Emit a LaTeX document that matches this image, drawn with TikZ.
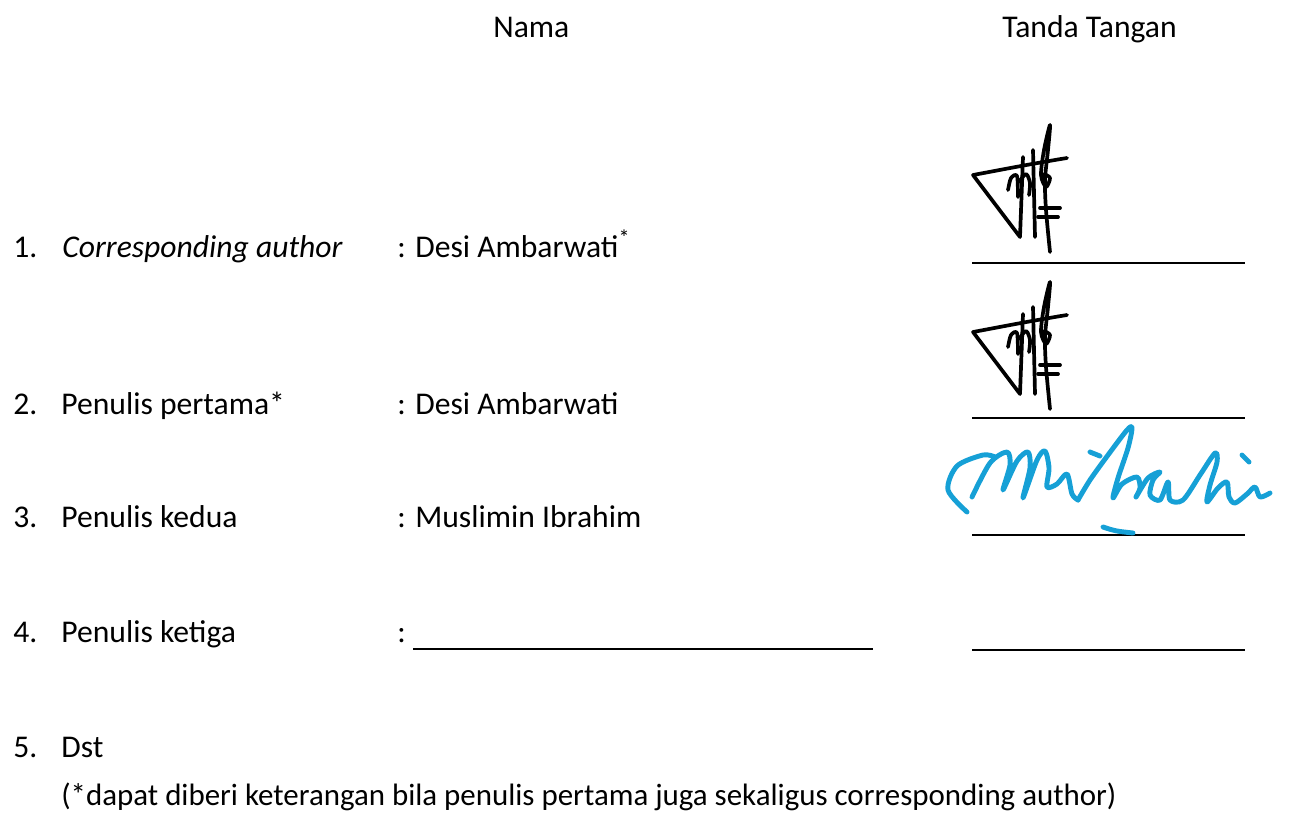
\documentclass[tikz,border=0pt]{standalone}
\usepackage{fontspec}
\setmainfont{Carlito}
\definecolor{inkblue}{RGB}{22,160,214}

\begin{document}
\begin{tikzpicture}[%
    x=0.02cm, y=-0.02cm,     % one unit is one pixel of the page, y runs down
    font=\fontsize{18}{22}\selectfont,
    ]
% -------------------------------------------------
% Text, rule and ink styles
\tikzset{
  txt/.style={anchor=base west, inner sep=0pt},
  rule/.style={draw, line width=1.1pt},
  ink/.style={draw, line width=2.1pt, line cap=round, line join=round},
  inkb/.style={ink, inkblue, line width=2.8pt},
  % the same hand signature is used twice
  sigdesi/.pic={
    \draw[ink] (67,8) .. controls (30,14) and (0,20) .. (-27,25) -- (20,87) -- (23,7);
    \draw[ink] (35,87) -- (33,0);
    \draw[ink] plot[smooth] coordinates {(50,102) (46,60) (45,30) (48,0) (50,-25)
      (44,0) (41,25) (46,37) (50,28) (44,24)};
    \draw[ink] plot[smooth] coordinates {(8,40) (11,28) (17,26) (18,47)};
    \draw[ink] plot[smooth] coordinates {(19,32) (26,24) (30,33) (29,45)};
    \draw[ink] (40,58) -- (60,58) (38,67) -- (58,67);
  }
}
\useasboundingbox (0,0) rectangle (1298,819);
% -------------------------------------------------
% Column heads
\node[txt] (nama) at (493,37) {Nama};
\node[txt] (ttd) at (1002,37) {Tanda Tangan};

% Row numbers
\foreach \n/\y in {1/257,2/414,3/527,4/642,5/757}
  \node[txt] (num\n) at (13,\y) {\n.};

% Roles and names
\node[txt] (role1) at (62,257) {\itshape Corresponding author};
\node[txt] (role2) at (61,414) {Penulis pertama*};
\node[txt] (role3) at (61,527) {Penulis kedua};
\node[txt] (role4) at (61,642) {Penulis ketiga};
\node[txt] (role5) at (61,757) {Dst};

\node[txt] (name1) at (397,257) {: Desi Ambarwati\textsuperscript{*}};
\node[txt] (name2) at (397,414) {: Desi Ambarwati};
\node[txt] (name3) at (397,527) {: Muslimin Ibrahim};
\node[txt] (name4) at (397,642) {:};
\draw[rule] (413,649) -- (873,649);

% Signature lines
\foreach \y in {263,418,535,650}
  \draw[rule] (972,\y) -- (1245,\y);

% -------------------------------------------------
% Signatures
\pic at (1000,150) {sigdesi};
\pic at (1000,307) {sigdesi};

\draw[inkb] plot[smooth] coordinates {(967,512) (948,490) (957,466) (983,455) (995,457)};
\draw[inkb] plot[smooth] coordinates {(972,497) (990,463) (1007,452) (1010,465)
  (1003,490) (1017,461) (1028,452) (1030,468) (1023,498) (1037,460) (1045,451)
  (1049,468) (1047,487) (1057,484) (1067,474) (1072,494) (1078,500)};
\draw[inkb] plot[smooth] coordinates {(1078,500) (1090,480) (1108,455) (1127,430)
  (1132,428) (1128,448) (1118,478) (1113,498) (1122,484) (1137,477) (1140,488)
  (1136,497) (1148,478) (1160,472) (1153,480) (1150,495) (1160,500) (1168,482)
  (1170,500) (1183,500) (1200,475) (1215,453) (1217,462) (1210,485) (1207,502)
  (1218,488) (1227,482) (1229,497) (1235,503) (1247,494) (1255,487) (1260,497)
  (1270,493)};
\draw[inkb] (1090,452) -- (1100,456) (1242,455) -- (1249,462);
\draw[inkb] (1103,527) .. controls (1115,531) .. (1133,533);

% -------------------------------------------------
% Footnote
\node[txt, font=\fontsize{17.6}{20}\selectfont] (note) at (61,805)
  {(*dapat diberi keterangan bila penulis pertama juga sekaligus corresponding author)};
\end{tikzpicture}
\end{document}
